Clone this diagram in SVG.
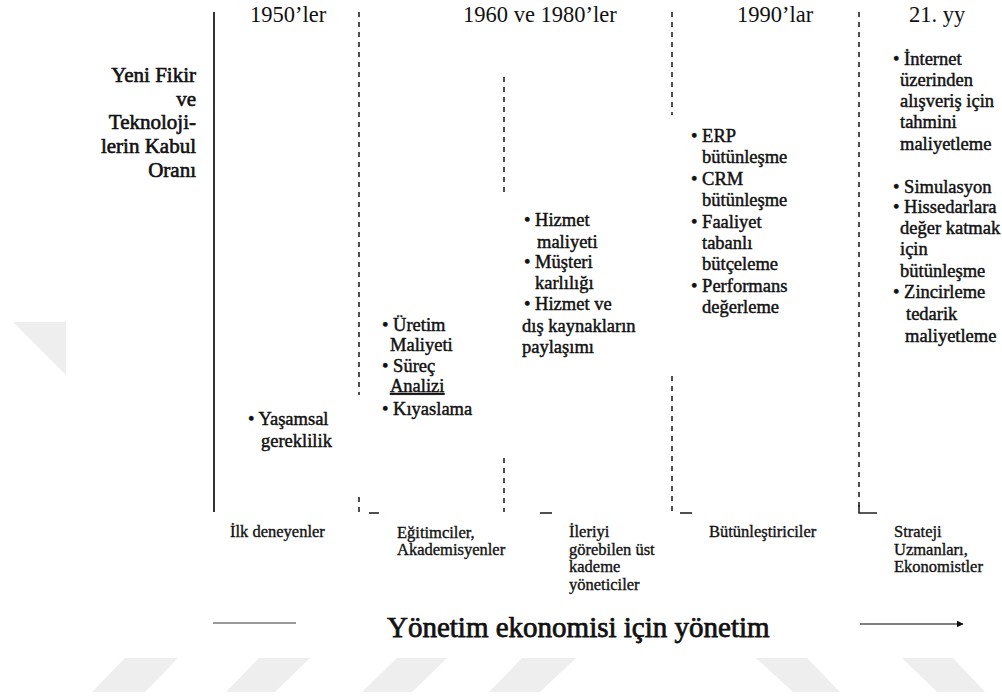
<svg xmlns="http://www.w3.org/2000/svg" width="1002" height="697" viewBox="0 0 1002 697">
<style>
text{font-family:"Liberation Serif","Times New Roman",serif;fill:#111;}
.hdr{font-size:22.5px;}
.lab{font-size:21px;text-anchor:end;stroke:#111;stroke-width:0.6;}
.b{font-size:18.5px;stroke:#111;stroke-width:0.45;}
.g{font-size:16.5px;stroke:#111;stroke-width:0.35;}
.ttl{font-size:29px;stroke:#111;stroke-width:0.75;}
.dash{stroke:#222;stroke-width:1.6;stroke-dasharray:5,5;fill:none;}
.solid{stroke:#333;stroke-width:2;fill:none;}
.tick{stroke:#222;stroke-width:1.6;fill:none;}
.wm{fill:#eeeeee;}
</style>
<defs>
<marker id="arr" viewBox="0 0 10 10" refX="9" refY="5" markerWidth="7" markerHeight="7" markerUnits="userSpaceOnUse" orient="auto">
<path d="M0,0 L10,5 L0,10 z" fill="#111"/>
</marker>
</defs>
<rect width="1002" height="697" fill="#fff"/>
<g id="watermark">
<polygon class="wm" points="13,322 66,322 66,375"/>
<polygon class="wm" points="125,658 178,658 145,692 92,692"/>
<polygon class="wm" points="259,658 310,658 275,692 226,692"/>
<polygon class="wm" points="397,658 447,658 412,692 362,692"/>
<polygon class="wm" points="522,658 576,658 540,692 489,692"/>
<polygon class="wm" points="756,658 807,658 840,692 793,692"/>
<polygon class="wm" points="902,658 953,658 985,692 937,692"/>
</g>
<g id="connectors">
<line class="solid" x1="214" y1="12" x2="214" y2="512"/>
<line class="dash" x1="359" y1="12" x2="359" y2="395"/>
<line class="dash" x1="359" y1="497" x2="359" y2="512"/>
<line class="tick" x1="369" y1="513" x2="379" y2="513"/>
<line class="dash" x1="504" y1="77" x2="504" y2="192"/>
<line class="dash" x1="504" y1="458" x2="504" y2="512"/>
<line class="tick" x1="540" y1="513" x2="552" y2="513"/>
<line class="dash" x1="672" y1="12" x2="672" y2="115"/>
<line class="dash" x1="672" y1="376" x2="672" y2="512"/>
<line class="tick" x1="680" y1="513" x2="692" y2="513"/>
<line class="dash" x1="859" y1="12" x2="859" y2="508"/>
<polyline class="tick" points="859,505 859,513 877,513"/>
<line x1="213" y1="623" x2="296" y2="623" stroke="#999" stroke-width="2"/>
<line x1="860" y1="624" x2="963" y2="624" stroke="#555" stroke-width="1.6" marker-end="url(#arr)"/>
</g>
<g id="headers">
<text class="hdr" x="250" y="22">1950’ler</text>
<text class="hdr" x="463" y="22">1960 ve 1980’ler</text>
<text class="hdr" x="737" y="22">1990’lar</text>
<text class="hdr" x="909" y="22">21. yy</text>
</g>
<g id="axis-label">
<text class="lab" x="196" y="82">Yeni Fikir</text>
<text class="lab" x="196" y="106">ve</text>
<text class="lab" x="196" y="129">Teknoloji-</text>
<text class="lab" x="196" y="153">lerin Kabul</text>
<text class="lab" x="196" y="177">Oranı</text>
</g>
<g id="col-1950">
<text class="b" x="248" y="425">• Yaşamsal</text>
<text class="b" x="261" y="447">gereklilik</text>
</g>
<g id="col-1960a">
<text class="b" x="382" y="331">• Üretim</text>
<text class="b" x="390" y="351">Maliyeti</text>
<text class="b" x="382" y="372">• Süreç</text>
<text class="b" x="390" y="392" text-decoration="underline">Analizi</text>
<text class="b" x="382" y="415">• Kıyaslama</text>
</g>
<g id="col-1960b">
<text class="b" x="524" y="226">• Hizmet</text>
<text class="b" x="537" y="248">maliyeti</text>
<text class="b" x="524" y="268">• Müşteri</text>
<text class="b" x="535" y="289">karlılığı</text>
<text class="b" x="524" y="310">• Hizmet ve</text>
<text class="b" x="522" y="332">dış kaynakların</text>
<text class="b" x="522" y="353">paylaşımı</text>
</g>
<g id="col-1990">
<text class="b" x="691" y="142">• ERP</text>
<text class="b" x="702" y="163">bütünleşme</text>
<text class="b" x="691" y="185">• CRM</text>
<text class="b" x="702" y="206">bütünleşme</text>
<text class="b" x="691" y="228">• Faaliyet</text>
<text class="b" x="702" y="249">tabanlı</text>
<text class="b" x="702" y="270">bütçeleme</text>
<text class="b" x="691" y="292">•  Performans</text>
<text class="b" x="702" y="313">değerleme</text>
</g>
<g id="col-21">
<text class="b" x="893" y="65">• İnternet</text>
<text class="b" x="900" y="86">üzerinden</text>
<text class="b" x="900" y="107">alışveriş için</text>
<text class="b" x="900" y="128">tahmini</text>
<text class="b" x="900" y="150">maliyetleme</text>
<text class="b" x="893" y="193">• Simulasyon</text>
<text class="b" x="893" y="213">• Hissedarlara</text>
<text class="b" x="900" y="234">değer katmak</text>
<text class="b" x="900" y="255">için</text>
<text class="b" x="900" y="277">bütünleşme</text>
<text class="b" x="893" y="298">• Zincirleme</text>
<text class="b" x="906" y="320">tedarik</text>
<text class="b" x="905" y="342">maliyetleme</text>
</g>
<g id="groups">
<text class="g" x="230" y="537">İlk deneyenler</text>
<text class="g" x="397" y="538">Eğitimciler,</text>
<text class="g" x="397" y="555">Akademisyenler</text>
<text class="g" x="569" y="537">İleriyi</text>
<text class="g" x="569" y="555">görebilen üst</text>
<text class="g" x="569" y="572">kademe</text>
<text class="g" x="569" y="590">yöneticiler</text>
<text class="g" x="709" y="537">Bütünleştiriciler</text>
<text class="g" x="894" y="537">Strateji</text>
<text class="g" x="894" y="555">Uzmanları,</text>
<text class="g" x="894" y="572">Ekonomistler</text>
</g>
<g id="title">
<text class="ttl" x="387" y="637">Yönetim ekonomisi için yönetim</text>
</g>
</svg>
